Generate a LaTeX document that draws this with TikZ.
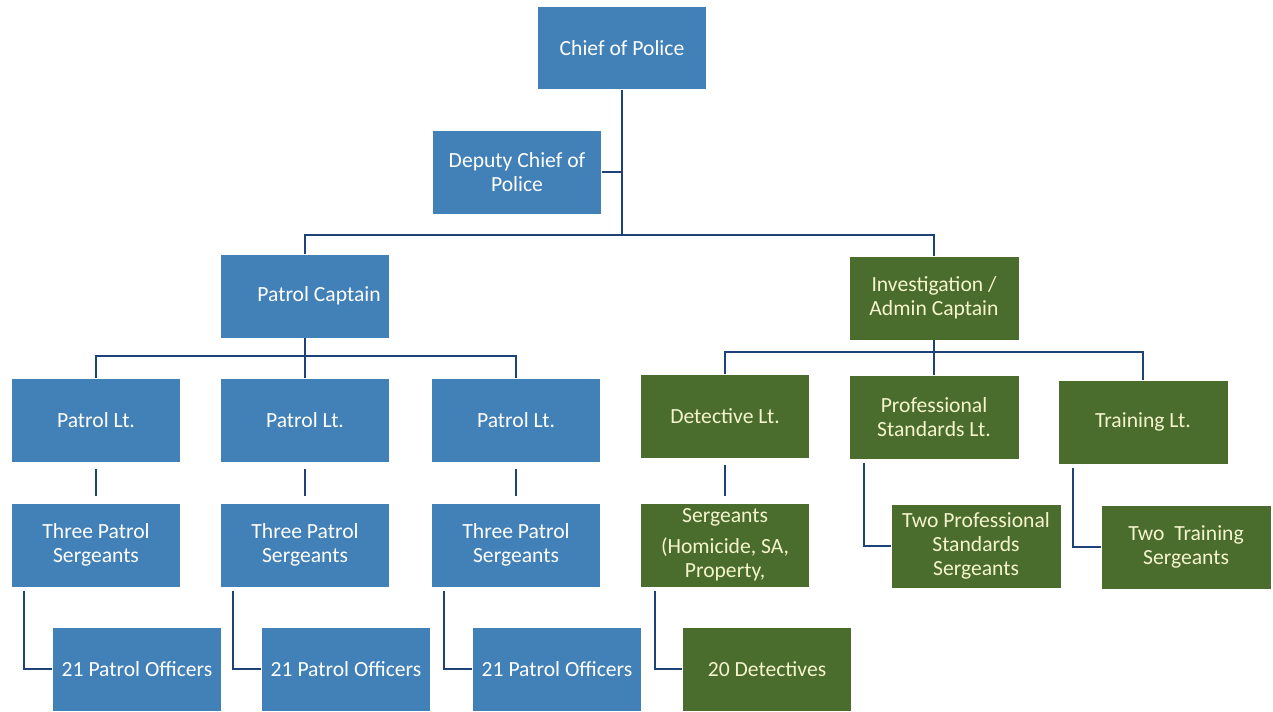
\documentclass[tikz,border=0pt]{standalone}
\usepackage{fontspec}
\setmainfont{Carlito}

\definecolor{boxblue}{RGB}{66,128,184}
\definecolor{boxgreen}{RGB}{74,108,44}
\definecolor{linkblue}{RGB}{28,66,120}
\definecolor{textcream}{RGB}{245,245,205}

\begin{document}
\begin{tikzpicture}[x=0.02cm,y=-0.02cm,
  pbox/.style={fill=boxblue,text=white,minimum width=3.38cm,minimum height=1.66cm,
    align=center,inner sep=2pt,font=\fontsize{12.3}{13.7}\selectfont},
  gbox/.style={pbox,fill=boxgreen,text=textcream},
  link/.style={draw=linkblue,line width=1.2pt}]
\useasboundingbox (0,0) rectangle (1273,711);
% top of the chart
\node[pbox] (chief) at (622,48) {Chief of Police};
\node[pbox] (deputy) at (517,172) {Deputy Chief of\\Police};
\node[pbox] (pcap) at (305,296) {\hspace{16pt}Patrol Captain};
\node[gbox] (icap) at (934,298) {Investigation /\\Admin Captain};
\coordinate (top) at (622,235);
\draw[link] (chief.south) -- (top);
\draw[link] (deputy.east) -- (deputy.east -| top);
\draw[link] (pcap.north) -- (pcap.north |- top) -| (icap.north);
% patrol side
\foreach \i/\x in {1/96,2/305,3/516}{
  \node[pbox] (plt\i) at (\x,420) {Patrol Lt.};
  \node[pbox] (psgt\i) at (\x,545) {Three Patrol\\Sergeants};
  \node[pbox] (pofc\i) at (\x+41,669) {21 Patrol Officers};
  \draw[link,shorten <=4pt,shorten >=4pt] (plt\i) -- (psgt\i);
  \draw[link] (psgt\i.south west) ++(13,4) |- (pofc\i.west);
}
\coordinate (pbus) at (305,356);
\draw[link] (pcap.south) -- (pbus);
\draw[link] (plt1.north) |- (pbus) -| (plt3.north);
\draw[link] (pbus) -- (plt2.north);
% investigation side
\node[gbox] (dlt) at (725,416) {Detective Lt.};
\node[gbox] (pslt) at (934,417) {Professional\\Standards Lt.};
\node[gbox] (tlt) at (1143,422) {Training Lt.};
\node[gbox] (dsgt) at (725,545) {Sergeants\\[4pt](Homicide, SA,\\Property,};
\node[gbox] (det) at (767,669) {20 Detectives};
\node[gbox] (pssgt) at (976,546) {Two Professional\\Standards\\Sergeants};
\node[gbox] (tsgt) at (1186,547) {Two\ \ Training\\Sergeants};
\coordinate (ibus) at (934,352);
\draw[link] (icap.south) -- (ibus);
\draw[link] (dlt.north) |- (ibus) -| (tlt.north);
\draw[link] (ibus) -- (pslt.north);
\draw[link,shorten <=4pt,shorten >=4pt] (dlt) -- (dsgt);
\draw[link] (dsgt.south west) ++(15,4) |- (det.west);
\draw[link] (pslt.south west) ++(15,4) |- (pssgt.west);
\draw[link] (tlt.south west) ++(15,4) |- (tsgt.west);
\end{tikzpicture}
\end{document}
